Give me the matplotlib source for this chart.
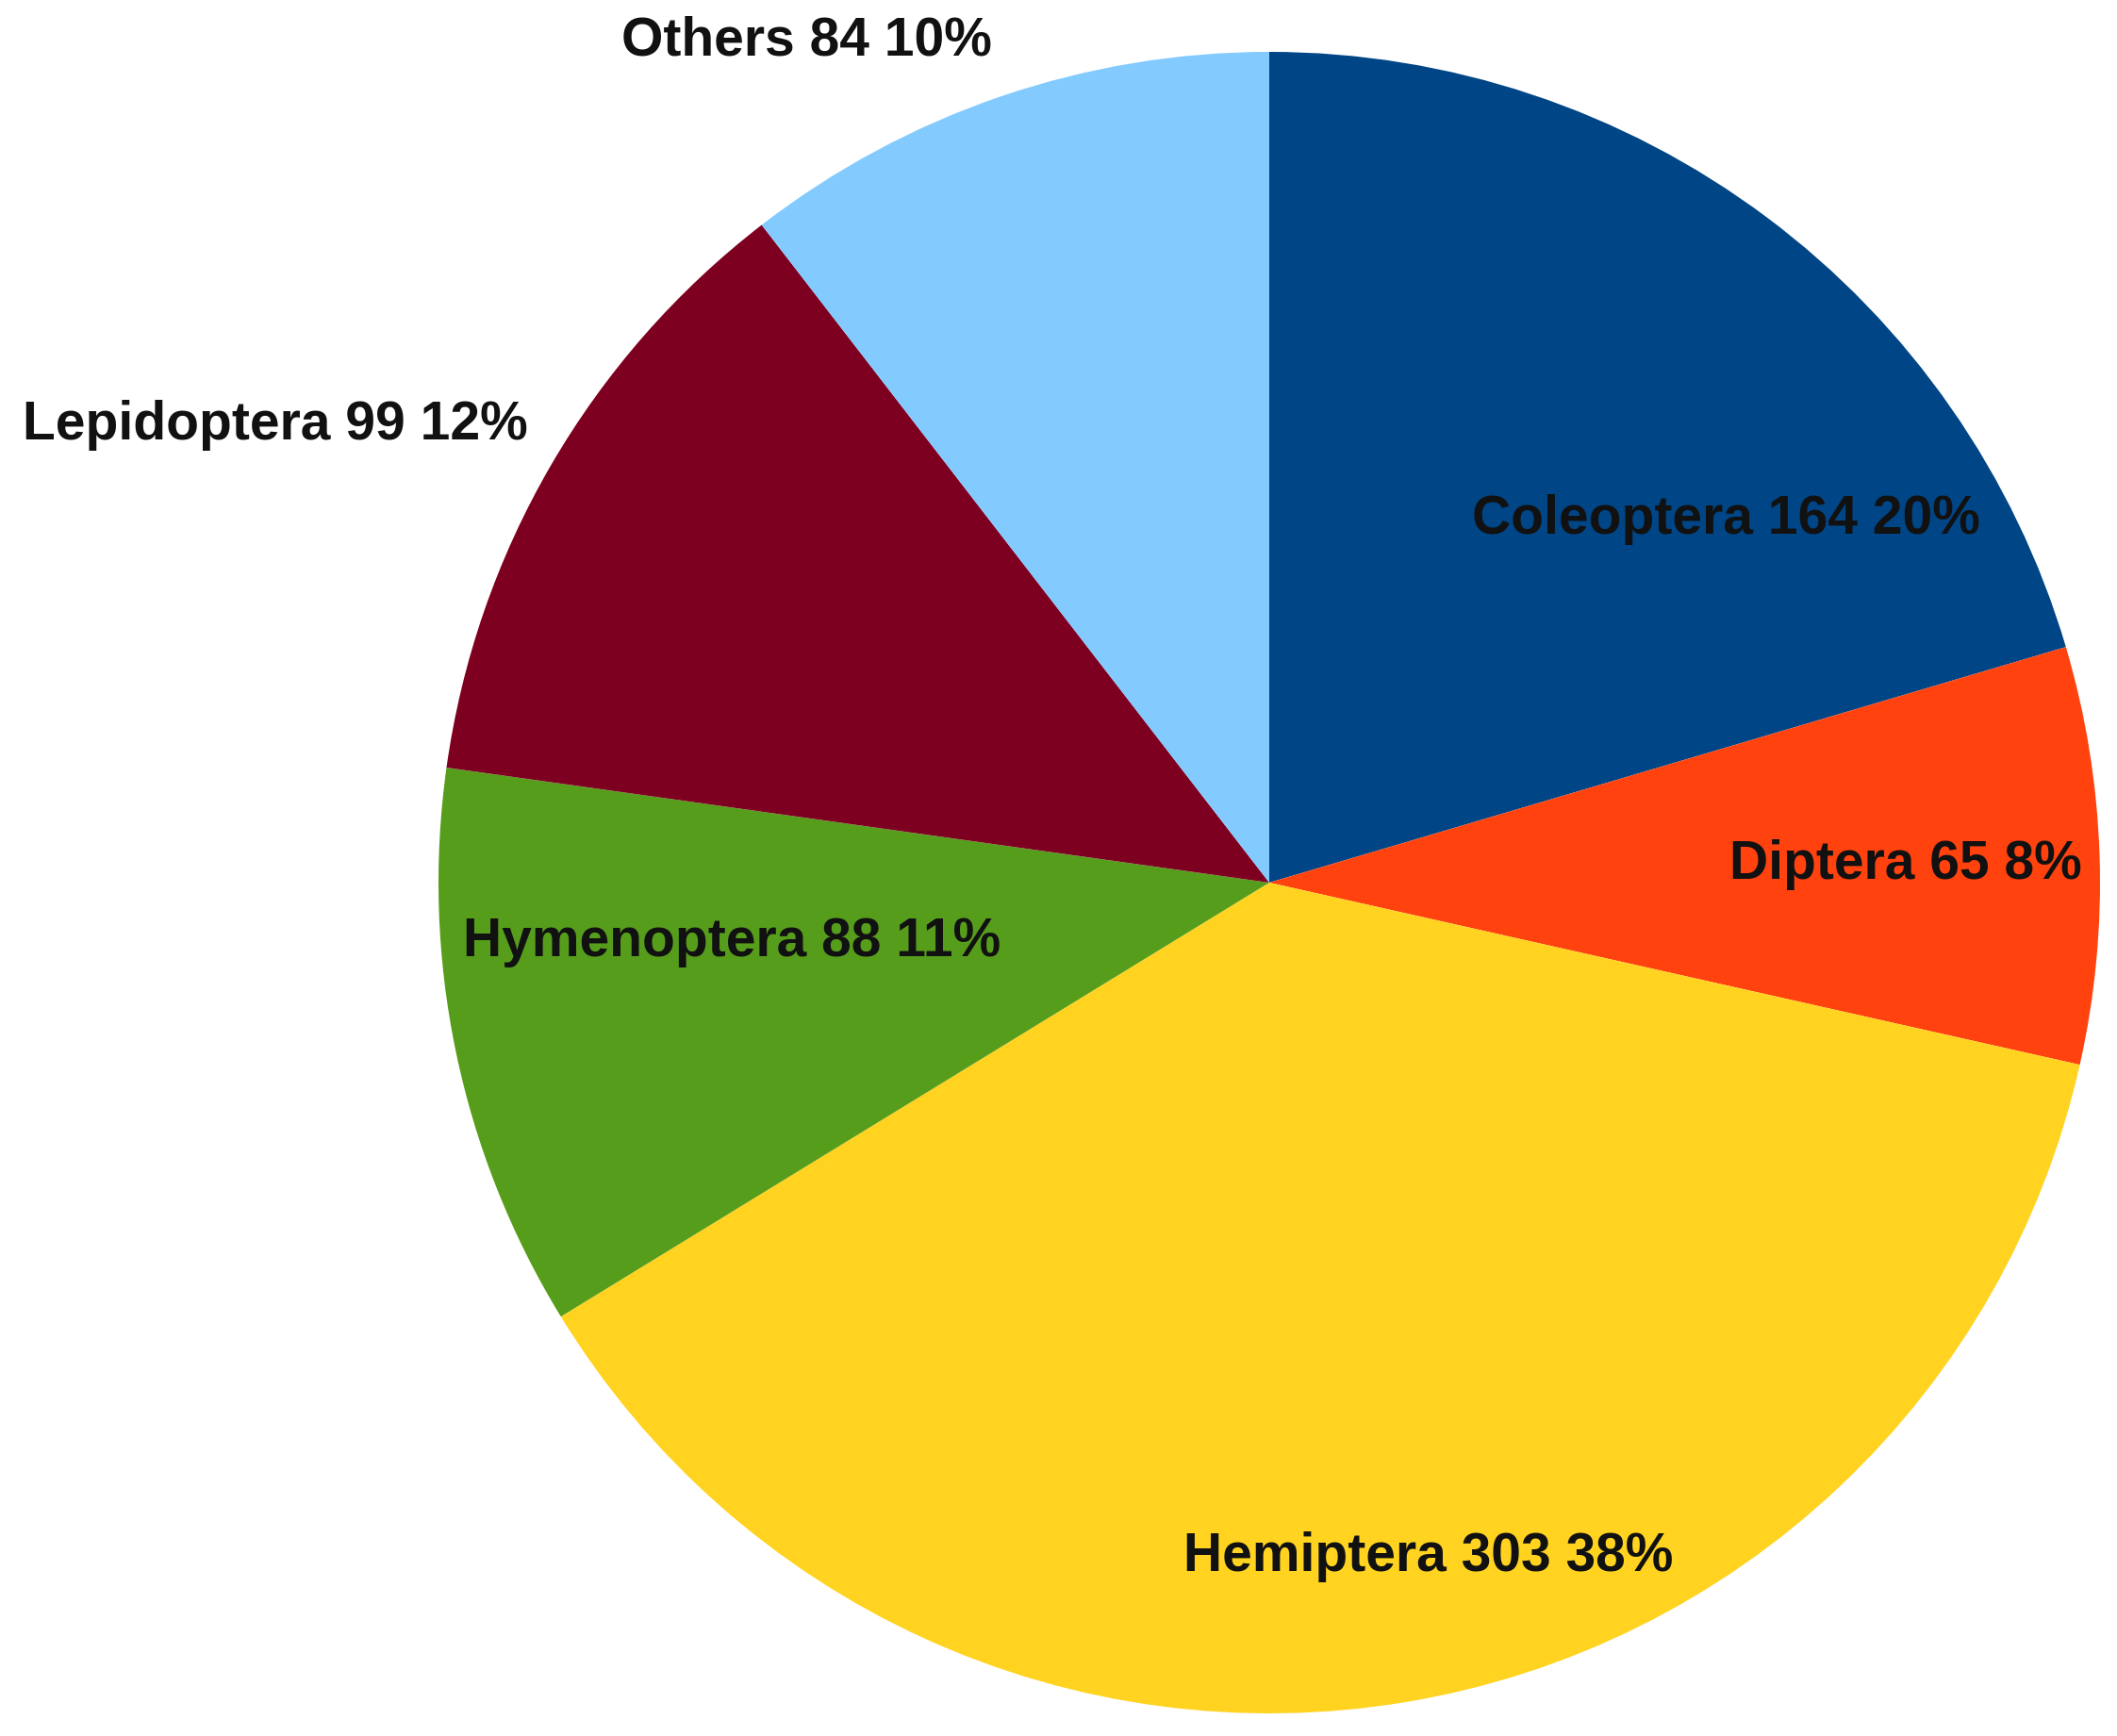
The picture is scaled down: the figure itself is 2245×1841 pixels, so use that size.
import matplotlib
matplotlib.use('Agg')
import matplotlib.pyplot as plt

# Insect orders and counts
orders = ['Coleoptera', 'Diptera', 'Hemiptera', 'Hymenoptera', 'Lepidoptera', 'Others']
counts = [164, 65, 303, 88, 99, 84]
colors = ['#004586', '#ff420e', '#ffd320', '#579d1c', '#7e0021', '#83caff']

# label placement (in pie radius units)
label_pos = [(0.550, 0.437), (0.766, 0.022), (0.192, -0.812),
             (-0.647, -0.071), (-1.196, 0.550), (-0.557, 1.013)]

total = sum(counts)

fig = plt.figure(figsize=(22.45, 18.41), dpi=100)
ax = fig.add_axes([0, 0, 1, 1])
ax.pie(counts, colors=colors, startangle=90, counterclock=False,
       radius=1.0, wedgeprops={'linewidth': 0})

for name, n, (x, y) in zip(orders, counts, label_pos):
    pct = round(n / total * 100)
    ax.text(x, y, '%s %d %d%%' % (name, n, pct), ha='center', va='center',
            fontsize=41, fontweight='bold', family='Liberation Sans',
            color='#111111')

# pixel-matched limits: center at (1346, 936), radius 881 px
cx, cy, rpx = 1346, 936, 881
ax.set_xlim(-cx / rpx, (2245 - cx) / rpx)
ax.set_ylim(-(1841 - cy) / rpx, cy / rpx)
ax.set_aspect('auto')
ax.axis('off')

fig.savefig('out.png', dpi=100)
